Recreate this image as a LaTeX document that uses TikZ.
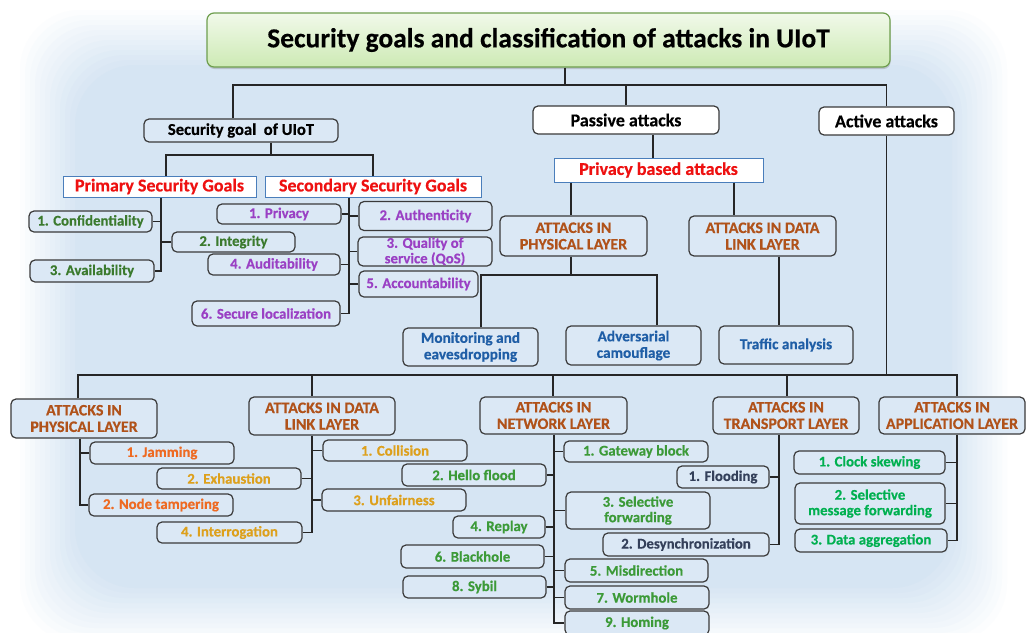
\documentclass[tikz,border=0pt]{standalone}
\usepackage{fontspec}
\setmainfont{Carlito}[BoldFeatures={FakeBold=0.4}]
\usetikzlibrary{shadows}

\definecolor{bgblue}{HTML}{D6E5F3}
\definecolor{boxblue}{HTML}{DBE8F5}
\definecolor{boxline}{HTML}{3A3A3A}
\definecolor{titleedge}{HTML}{6E9E4E}
\definecolor{titletop}{HTML}{F1F9EA}
\definecolor{titlebot}{HTML}{CDEAB4}
\definecolor{frameblue}{HTML}{4A7EBB}
\definecolor{titlered}{HTML}{EE1111}
\definecolor{goalgreen}{HTML}{3B7A2E}
\definecolor{goalpurple}{HTML}{9A40C4}
\definecolor{layerbrown}{HTML}{B0521A}
\definecolor{passblue}{HTML}{1F5EA6}
\definecolor{jamorange}{HTML}{EE6A22}
\definecolor{gold}{HTML}{DDA01C}
\definecolor{netgreen}{HTML}{3C9A38}
\definecolor{slate}{HTML}{34405A}
\definecolor{appgreen}{HTML}{00B050}

\begin{document}
\begin{tikzpicture}[
    x=1pt, y=-1pt,
    every node/.style={
        inner sep=0pt,
        align=center,
        font=\bfseries\fontsize{14.8}{15.5}\selectfont
      },
    wh/.style 2 args={minimum width=#1pt, minimum height=#2pt},
    box/.style={draw=boxline, fill=boxblue, rounded corners=5pt, line width=1.2pt, text=#1},
    box/.default=black,
    frame/.style={draw=frameblue, fill=white, line width=1pt, text=titlered,
        font=\bfseries\fontsize{18}{19}\selectfont},
    upper/.style={box, font=\bfseries\fontsize{18}{19}\selectfont},
    layer/.style={box=layerbrown, font=\bfseries\fontsize{16}{16.5}\selectfont},
    leafblue/.style={box=passblue, font=\bfseries\fontsize{15.3}{16.5}\selectfont},
    link/.style={line width=1.6pt, draw=black!85}
  ]

  \useasboundingbox (0,0) rectangle (1027,632);
  \fill[white] (0,0) rectangle (1027,632);
  \foreach \k in {0,...,12}{
      \pgfmathtruncatemacro\pct{\k*100/12}
      \fill[bgblue!\pct!white, rounded corners=60pt]
        (15+\k*5,5+\k*5) rectangle (1012-\k*5,648-\k*5);
    }

  \node[draw=titleedge, line width=1.2pt, rounded corners=7pt,
    top color=titletop, bottom color=titlebot, wh={683}{54},
    drop shadow={shadow xshift=0.5pt, shadow yshift=-2pt, opacity=.35},
    font=\bfseries\fontsize{27.5}{30}\selectfont]
  (title) at (548.5,40) {Security goals and classification of attacks in UIoT};

  \node[box, wh={194}{23}, font=\bfseries\fontsize{16.6}{17}\selectfont]
  (goal) at (241,130.5) {Security goal\ \ of UIoT};
  \node[upper, fill=white, wh={186}{28}] (passive) at (626,120) {Passive attacks};
  \node[upper, fill=white, wh={135}{28}] (active) at (886.5,121) {Active attacks};

  % security goals
  \node[frame, wh={193}{21}] (prim) at (159.5,186.5) {Primary Security Goals};
  \node[frame, wh={216}{21}] (sec) at (373,186.5) {Secondary Security Goals};

  \node[box=goalgreen, wh={123}{21}] (conf) at (90.5,221.5) {1. Confidentiality};
  \node[box=goalgreen, wh={123}{20}] (integ) at (233.5,242) {2. Integrity};
  \node[box=goalgreen, wh={124}{22}] (avail) at (92,271) {3. Availability};

  \node[box=goalpurple, wh={124}{20}] (priv) at (279,214) {1. Privacy};
  \node[box=goalpurple, wh={133}{29}] (auth) at (425.5,216) {2. Authenticity};
  \node[box=goalpurple, wh={134}{29}] (qos) at (425,251.5) {3. Quality of\\service (QoS)};
  \node[box=goalpurple, wh={132}{21}] (audit) at (274,264.5) {4. Auditability};
  \node[box=goalpurple, wh={119}{26}] (account) at (418.5,284) {5. Accountability};
  \node[box=goalpurple, wh={148}{25}] (secloc) at (266,313.5) {6. Secure localization};

  % passive attacks
  \node[frame, wh={209}{24}] (privatt) at (658.5,170) {Privacy based attacks};
  \node[layer, wh={147}{40}] (pphys) at (573.5,236) {ATTACKS IN\\PHYSICAL LAYER};
  \node[layer, wh={147}{40}] (pdl) at (762.5,236) {ATTACKS IN DATA\\LINK LAYER};

  \node[leafblue, wh={135}{38}] (monit) at (470.5,347) {Monitoring and\\eavesdropping};
  \node[leafblue, wh={135}{39}] (advers) at (633.5,345.5) {Adversarial\\camouflage};
  \node[leafblue, wh={134}{38}] (traffic) at (786,345) {Traffic analysis};

  % active attacks
  \node[layer, wh={146}{39}] (aphys) at (84,418.5) {ATTACKS IN\\PHYSICAL LAYER};
  \node[layer, wh={146}{38}] (adl) at (322,416) {ATTACKS IN DATA\\LINK LAYER};
  \node[layer, wh={147}{37}] (anet) at (553.5,415.5) {ATTACKS IN\\NETWORK LAYER};
  \node[layer, wh={146}{37}] (atrans) at (786,415.5) {ATTACKS IN\\TRANSPORT LAYER};
  \node[layer, wh={146}{37}] (aapp) at (952,415.5) {ATTACKS IN\\APPLICATION LAYER};

  \node[box=jamorange, wh={144}{22}] (jam) at (162,453) {1. Jamming};
  \node[box=jamorange, wh={144}{22}] (tamper) at (161,505) {2. Node tampering};

  \node[box=gold, wh={144}{21}] (coll) at (395,450.5) {1. Collision};
  \node[box=gold, wh={144}{21}] (exhaust) at (229,478.5) {2. Exhaustion};
  \node[box=gold, wh={144}{22}] (unfair) at (394,500) {3. Unfairness};
  \node[box=gold, wh={145}{21}] (interrog) at (229.5,532.5) {4. Interrogation};

  \node[box=netgreen, wh={144}{21}] (gate) at (636,451.5) {1. Gateway block};
  \node[box=netgreen, wh={144}{22}] (hello) at (474,475) {2. Hello flood};
  \node[box=netgreen, wh={144}{37}] (selfw) at (638,510.5) {3. Selective\\forwarding};
  \node[box=netgreen, wh={92}{22}] (replay) at (499,527) {4. Replay};
  \node[box=netgreen, wh={143}{23}] (misdir) at (636.5,570.5) {5. Misdirection};
  \node[box=netgreen, wh={143}{23}] (black) at (472.5,556.5) {6. Blackhole};
  \node[box=netgreen, wh={144}{23}] (worm) at (637,597.5) {7. Wormhole};
  \node[box=netgreen, wh={143}{22}] (sybil) at (474.5,587) {8. Sybil};
  \node[box=netgreen, wh={144}{24}] (homing) at (637,623) {9. Homing};

  \node[box=slate, wh={92}{22}] (flood) at (723,477) {1. Flooding};
  \node[box=slate, wh={166}{23}] (desync) at (686,544.5) {2. Desynchronization};

  \node[box=appgreen, wh={151}{23}] (clock) at (869.5,462.5) {1. Clock skewing};
  \node[box=appgreen, wh={150}{41}] (selmsg) at (870,503.5) {2. Selective\\message forwarding};
  \node[box=appgreen, wh={152}{23}] (dagg) at (871,540.5) {3. Data aggregation};

  % top level links
  \coordinate (tb) at (565,85);
  \coordinate (gx) at (233,85);
  \draw[link] (title.south -| tb) -- (tb);
  \draw[link] (goal.north -| gx) -- (gx) -- (tb -| active) -- (active.north);
  \draw[link] (tb -| passive) -- (passive.north);

  \coordinate (gb) at (271,155);
  \coordinate (pk) at (166,155);
  \draw[link] (goal.south -| gb) -- (gb);
  \draw[link] (prim.north -| pk) -- (pk) -| (sec.north);

  \coordinate (pt) at (161,271);
  \draw[link] (prim.south -| pt) -- (pt) -- (avail.east);
  \draw[link] (conf.east) -- (conf.east -| pt);
  \draw[link] (integ.west) -- (integ.west -| pt);

  \coordinate (st) at (349,313.5);
  \draw[link] (sec.south -| st) -- (st) -- (secloc.east);
  \draw[link] (priv.east) -- (priv.east -| st);
  \draw[link] (auth.west) -- (auth.west -| st);
  \draw[link] (qos.west) -- (qos.west -| st);
  \draw[link] (audit.east) -- (audit.east -| st);
  \draw[link] (account.west) -- (account.west -| st);

  \coordinate (pv) at (653,0);
  \coordinate (pa) at (571,0);
  \coordinate (pd) at (734,0);
  \draw[link] (passive.south -| pv) -- (privatt.north -| pv);
  \draw[link] (privatt.south -| pa) -- (pphys.north -| pa);
  \draw[link] (privatt.south -| pd) -- (pdl.north -| pd);

  \coordinate (pb) at (571,275);
  \coordinate (mx) at (481,275);
  \coordinate (ax) at (657,275);
  \draw[link] (pphys.south -| pb) -- (pb);
  \draw[link] (monit.north -| mx) -- (mx) -- (ax) -- (advers.north -| ax);
  \coordinate (tx) at (779,0);
  \draw[link] (pdl.south -| tx) -- (traffic.north -| tx);

  % lower bus
  \coordinate (lb) at (78,375);
  \coordinate (dx) at (312,375);
  \coordinate (nx) at (553,375);
  \coordinate (trx) at (787,375);
  \coordinate (apx) at (957,375);
  \draw[link] (active.south) -- (active |- lb);
  \draw[link] (aphys.north -| lb) -- (lb) -- (apx) -- (aapp.north -| apx);
  \draw[link] (dx) -- (adl.north -| dx);
  \draw[link] (nx) -- (anet.north -| nx);
  \draw[link] (trx) -- (atrans.north -| trx);

  % layer trunks
  \coordinate (phy) at (80,505);
  \draw[link] (aphys.south -| phy) -- (phy) -- (tamper.west);
  \draw[link] (jam.west) -- (jam.west -| phy);

  \coordinate (dlt) at (312,532.5);
  \draw[link] (adl.south -| dlt) -- (dlt) -- (interrog.east);
  \draw[link] (coll.west) -- (coll.west -| dlt);
  \draw[link] (exhaust.east) -- (exhaust.east -| dlt);
  \draw[link] (unfair.west) -- (unfair.west -| dlt);

  \coordinate (nt) at (554,623);
  \draw[link] (anet.south -| nt) -- (nt) -- (homing.west);
  \foreach \n in {gate, selfw, misdir, worm}
    \draw[link] (\n.west) -- (\n.west -| nt);
  \foreach \n in {hello, replay, black, sybil}
    \draw[link] (\n.east) -- (\n.east -| nt);

  \coordinate (tt) at (779,544.5);
  \draw[link] (atrans.south -| tt) -- (tt) -- (desync.east);
  \draw[link] (flood.east) -- (flood.east -| tt);

  \coordinate (at) at (957,540.5);
  \draw[link] (aapp.south -| at) -- (at) -- (dagg.east);
  \draw[link] (clock.east) -- (clock.east -| at);
  \draw[link] (selmsg.east) -- (selmsg.east -| at);

\end{tikzpicture}
\end{document}
